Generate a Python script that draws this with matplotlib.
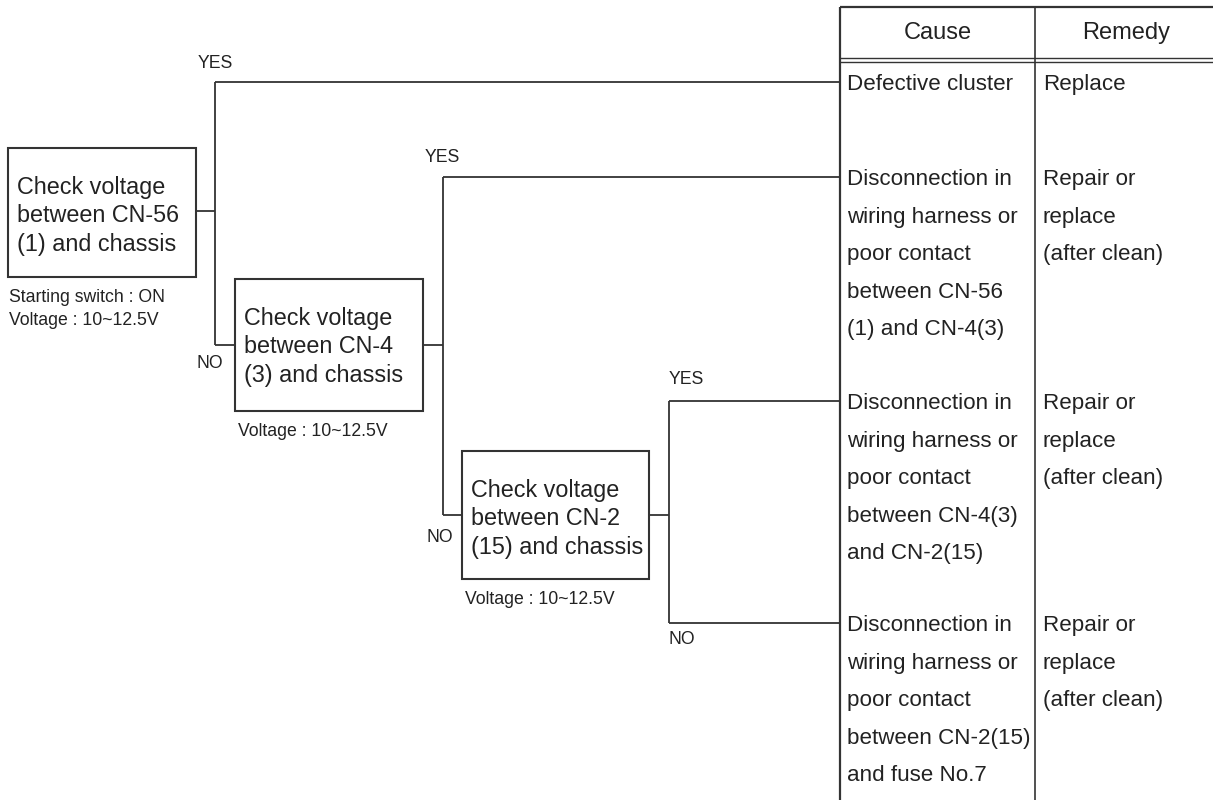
import matplotlib.pyplot as plt
import matplotlib as mpl

# ---- content ----
box_texts = [
    ['Check voltage', 'between CN-56', '(1) and chassis'],
    ['Check voltage', 'between CN-4', '(3) and chassis'],
    ['Check voltage', 'between CN-2', '(15) and chassis'],
]
box_notes = [
    ['Starting switch : ON', 'Voltage : 10~12.5V'],
    ['Voltage : 10~12.5V'],
    ['Voltage : 10~12.5V'],
]
headers = ['Cause', 'Remedy']
causes = [
    ['Defective cluster'],
    ['Disconnection in', 'wiring harness or', 'poor contact', 'between CN-56', '(1) and CN-4(3)'],
    ['Disconnection in', 'wiring harness or', 'poor contact', 'between CN-4(3)', 'and CN-2(15)'],
    ['Disconnection in', 'wiring harness or', 'poor contact', 'between CN-2(15)', 'and fuse No.7'],
]
remedies = [
    ['Replace'],
    ['Repair or', 'replace', '(after clean)'],
    ['Repair or', 'replace', '(after clean)'],
    ['Repair or', 'replace', '(after clean)'],
]

# ---- layout (pixel coordinates) ----
boxes = [(8, 148, 196, 277), (235, 279, 423, 411), (462, 451, 649, 579)]
row_y = [82, 177, 401, 623]
branch_x = [215, 443, 669]
tab_left, col_div, tab_top = 840, 1035, 7

LC = '#333333'
TC = '#222222'

mpl.rc('font', family=['Liberation Sans', 'DejaVu Sans'])

fig = plt.figure(figsize=(12.13, 8), dpi=100)
ax = fig.add_axes([0, 0, 1, 1])
ax.set_xlim(0, 1213)
ax.set_ylim(800, 0)
ax.axis('off')


def line(xs, ys, lw=1.3):
    ax.plot(xs, ys, color=LC, lw=lw, solid_capstyle='butt')


def lines_at(x, y0, step, texts, size, ha='left'):
    for i, t in enumerate(texts):
        ax.text(x, y0 + i * step + 0.37 * size * 100 / 72, t, fontsize=size,
                color=TC, ha=ha, va='baseline')


# boxes
for (x0, y0, x1, y1), txt, notes in zip(boxes, box_texts, box_notes):
    ax.add_patch(plt.Rectangle((x0, y0), x1 - x0, y1 - y0, fill=False,
                               ec=LC, lw=1.5))
    lines_at(x0 + 9, y0 + 37, 28.5, txt, 16.8)
    lines_at(x0 + 1 if x0 < 100 else x0 + 3, y1 + 18, 23, notes, 12.7)

# branches
bx = branch_x[0]
mid1 = (boxes[0][1] + boxes[0][3]) / 2
mid2 = (boxes[1][1] + boxes[1][3]) / 2
mid3 = (boxes[2][1] + boxes[2][3]) / 2
line([boxes[0][2], bx], [mid1 - 2, mid1 - 2])
line([bx, bx], [row_y[0], mid2])
line([bx, tab_left], [row_y[0], row_y[0]])
line([bx, boxes[1][0]], [mid2, mid2])
ax.text(bx - 17, row_y[0] - 18, 'YES', fontsize=12.7, color=TC, va='center')
ax.text(bx - 18, mid2 + 18, 'NO', fontsize=12.7, color=TC, va='center')

bx = branch_x[1]
line([boxes[1][2], bx], [mid2, mid2])
line([bx, bx], [row_y[1], mid3])
line([bx, tab_left], [row_y[1], row_y[1]])
line([bx, boxes[2][0]], [mid3, mid3])
ax.text(bx - 18, row_y[1] - 19, 'YES', fontsize=12.7, color=TC, va='center')
ax.text(bx - 16, mid3 + 22, 'NO', fontsize=12.7, color=TC, va='center')

bx = branch_x[2]
line([boxes[2][2], bx], [mid3, mid3])
line([bx, bx], [row_y[2], row_y[3]])
line([bx, tab_left], [row_y[2], row_y[2]])
line([bx, tab_left], [row_y[3], row_y[3]])
ax.text(bx, row_y[2] - 21, 'YES', fontsize=12.7, color=TC, va='center')
ax.text(bx, row_y[3] + 17, 'NO', fontsize=12.7, color=TC, va='center')

# table
line([tab_left, tab_left], [tab_top, 800], lw=1.6)
line([tab_left, 1213], [tab_top, tab_top], lw=1.6)
line([col_div, col_div], [tab_top, 800], lw=1.2)
line([tab_left, 1213], [58, 58], lw=1.0)
line([tab_left, 1213], [61.5, 61.5], lw=1.0)
ax.text((tab_left + col_div) / 2, 33, headers[0], fontsize=17, color=TC,
        ha='center', va='center')
ax.text((col_div + 1213) / 2 + 2, 33, headers[1], fontsize=17, color=TC,
        ha='center', va='center')
for y, c, r in zip(row_y, causes, remedies):
    lines_at(tab_left + 7, y, 37.5, c, 16.1)
    lines_at(col_div + 8, y, 37.5, r, 16.1)

fig.savefig('out.png', dpi=100)
